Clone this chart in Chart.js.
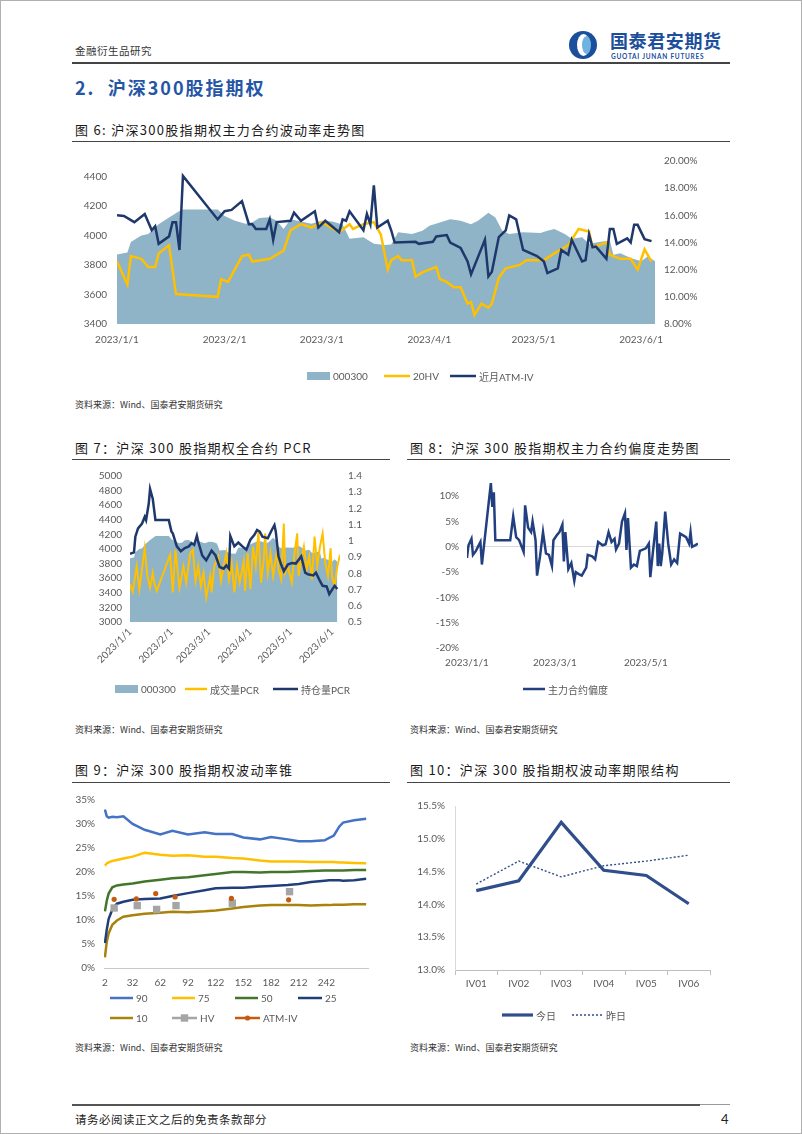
<!DOCTYPE html>
<html>
<head>
<meta charset="utf-8">
<script src="https://cdn.jsdelivr.net/npm/chart.js@4.4.0/dist/chart.umd.min.js"></script>
<style>
  html, body { margin: 0; padding: 0; background: #fff; }
  #page { position: relative; width: 802px; height: 1134px; overflow: hidden;
          font-family: "Noto Sans CJK SC", sans-serif; color: #222; }
  #frame { position: absolute; left: 0; top: 0; width: 802px; height: 1134px; box-sizing: border-box;
           border: 1px solid #b0b0b0; pointer-events: none; }
  .t { position: absolute; white-space: nowrap; line-height: 1; }
  .rule { position: absolute; background: #444; }
  .box { position: absolute; }
  .fig { font-size: 13px; letter-spacing: 1.3px; color: #1a1a1a; }
  .src { font-size: 9px; color: #333; }
  .lg { position: absolute; display: flex; align-items: center; height: 12px; white-space: nowrap;
        font-size: 10px; color: #595959; font-family: Lato, "Noto Sans CJK SC", sans-serif; }
  .lg svg { margin-right: 3px; }
  #logoIcon { position: absolute; left: 569px; top: 31px; width: 28px; height: 28px; border-radius: 50%;
              background: #1B4F9C; overflow: hidden; }
  #logoIcon .a { position: absolute; left: 8px; top: 3px; width: 13px; height: 22px; border-radius: 50%; background: #fff; }
  #logoIcon .b { position: absolute; left: 13px; top: 5px; width: 9px; height: 18px; border-radius: 50%; background: #6FB3E0; }
</style>
</head>
<body>
<div id="page">
  <div class="t" style="left:75px;top:46px;font-size:10.5px;color:#333;letter-spacing:0.5px;">金融衍生品研究</div>
  <div id="logoIcon"><div class="a"></div><div class="b"></div></div>
  <div class="t" style="left:610px;top:31px;font-size:18px;font-weight:bold;color:#1C4E9C;letter-spacing:0.6px;">国泰君安期货</div>
  <div class="t" style="left:611px;top:54px;font-size:6.5px;color:#1C4E9C;letter-spacing:0.75px;font-family:Lato,sans-serif;font-weight:bold;">GUOTAI JUNAN FUTURES</div>
  <div class="rule" style="left:72px;top:62px;width:658px;height:1.5px;"></div>

  <div class="t" style="left:75px;top:78px;font-size:18px;font-weight:bold;color:#2556A5;letter-spacing:2px;">2.&nbsp;&nbsp;沪深300股指期权</div>

  <div class="t fig" style="left:75px;top:123px;">图 6: 沪深300股指期权主力合约波动率走势图</div>
  <div class="rule" style="left:72px;top:141px;width:658px;height:1px;"></div>
  <div class="box" style="left:72px;top:145px;width:658px;height:205px;"><canvas id="c6"></canvas></div>
  <div class="t src" style="left:75px;top:400px;">资料来源：Wind、国泰君安期货研究</div>

  <div class="t fig" style="left:75px;top:441px;">图 7：沪深 300 股指期权全合约 PCR</div>
  <div class="t fig" style="left:410px;top:441px;">图 8：沪深 300 股指期权主力合约偏度走势图</div>
  <div class="rule" style="left:72px;top:459px;width:318px;height:1px;"></div>
  <div class="rule" style="left:407px;top:459px;width:323px;height:1px;"></div>
  <div class="box" style="left:72px;top:462px;width:318px;height:215px;"><canvas id="c7"></canvas></div>
  <div class="box" style="left:407px;top:462px;width:323px;height:212px;"><canvas id="c8"></canvas></div>
  <div class="t src" style="left:75px;top:725px;">资料来源：Wind、国泰君安期货研究</div>
  <div class="t src" style="left:410px;top:725px;">资料来源：Wind、国泰君安期货研究</div>

  <div class="t fig" style="left:75px;top:763px;">图 9：沪深 300 股指期权波动率锥</div>
  <div class="t fig" style="left:410px;top:763px;">图 10：沪深 300 股指期权波动率期限结构</div>
  <div class="rule" style="left:72px;top:782px;width:318px;height:1px;"></div>
  <div class="rule" style="left:407px;top:782px;width:323px;height:1px;"></div>
  <div class="box" style="left:72px;top:785px;width:318px;height:210px;"><canvas id="c9"></canvas></div>
  <div class="box" style="left:407px;top:790px;width:323px;height:205px;"><canvas id="c10"></canvas></div>
  <div class="t src" style="left:75px;top:1043px;">资料来源：Wind、国泰君安期货研究</div>
  <div class="t src" style="left:410px;top:1043px;">资料来源：Wind、国泰君安期货研究</div>

  <div class="rule" style="left:72px;top:1104px;width:628px;height:2px;background:#555;"></div>
  <div class="rule" style="left:700px;top:1104px;width:30px;height:1px;background:#999;"></div>
  <div class="t" style="left:75px;top:1114px;font-size:11.5px;color:#222;letter-spacing:0.5px;">请务必阅读正文之后的免责条款部分</div>
  <div class="t" style="left:721px;top:1113px;font-size:13px;color:#222;font-family:Lato,sans-serif;">4</div>
  <div id="frame"></div>
</div>

<script>
// ---- data (days counted from 2023-01-01, 0 = Jan 1) ----
const monthStartDays = [0, 31, 59, 90, 120, 151];
const monthStartLabels = ['2023/1/1', '2023/2/1', '2023/3/1', '2023/4/1', '2023/5/1', '2023/6/1'];
const skewTickDays = [0, 59, 120];

// 000300 close (shared by fig 6 and fig 7)
const idxDays = [0, 3, 4, 7, 9, 12, 15, 18, 19, 29, 31, 34, 37, 39, 41, 44, 46, 48, 50, 53,
  56, 59, 62, 65, 67, 71, 74, 77, 79, 81, 85, 88, 90, 93, 96, 99, 102, 104, 107, 109,
  111, 113, 117, 122, 124, 126, 129, 131, 134, 136, 139, 142, 143, 145, 148, 151, 153, 155];
const idxClose = [3872, 3885, 3956, 4000, 4011, 4077, 4122, 4166, 4177, 4177, 4133, 4100, 4080, 4090, 4120, 4125, 4100, 4045, 4110, 4095,
  4080, 4100, 4095, 4075, 3978, 3988, 3945, 3936, 3940, 4022, 4011, 4033, 4066, 4088, 4110, 4100, 4077, 4100, 4155, 4122,
  4033, 4011, 4022, 4018, 4033, 4044, 4011, 3978, 3989, 3945, 3956, 3967, 3870, 3880, 3848, 3826, 3860, 3826];
const idxTicks = [3400, 3600, 3800, 4000, 4200, 4400];

// fig 6: 20-day HV and near-month ATM IV (%)
const hvDays = [0, 3, 4, 7, 9, 11, 12, 15, 17, 29, 30, 32, 36, 38, 39, 44, 46, 48, 50, 53,
  56, 59, 64, 67, 68, 71, 74, 76, 78, 79, 81, 82, 85, 86, 88, 92, 93, 95, 97, 99,
  101, 102, 103, 105, 107, 108, 110, 112, 116, 118, 123, 126, 130, 133, 136, 137, 141, 142, 145, 148,
  150, 152, 154];
const hv20 = [12.6, 10.9, 13.0, 12.8, 12.2, 12.2, 13.2, 13.8, 10.2, 10.0, 11.3, 11.1, 13.0, 13.1, 12.6, 12.8, 13.1, 13.4, 14.9, 15.35,
  15.1, 15.5, 14.75, 15.35, 15.0, 15.35, 15.5, 14.6, 12.0, 12.7, 13.0, 12.7, 12.7, 11.5, 11.8, 12.2, 11.3, 11.1, 10.7, 10.7,
  9.5, 9.6, 8.65, 9.5, 9.2, 9.5, 11.4, 12.1, 12.35, 12.7, 12.7, 13.2, 13.8, 15.0, 14.8, 13.65, 14.0, 13.1, 12.8, 12.8,
  12.0, 13.5, 12.6];
const ivDays = [0, 2, 5, 8, 10, 11, 12, 15, 16, 17, 18, 19, 29, 31, 33, 36, 38, 39, 40, 43,
  44, 45, 46, 50, 51, 53, 57, 58, 60, 64, 65, 66, 67, 71, 72, 73, 74, 75, 78, 79,
  80, 86, 87, 91, 92, 95, 96, 99, 101, 102, 106, 107, 108, 110, 112, 113, 115, 117, 121, 123,
  124, 127, 128, 130, 131, 134, 135, 136, 137, 138, 141, 142, 143, 144, 147, 148, 149, 150, 152, 154];
const atmIv = [16.0, 15.95, 15.5, 16.1, 14.9, 15.2, 13.9, 14.45, 15.5, 15.5, 13.45, 18.9, 15.7, 16.3, 16.4, 17.05, 15.35, 15.35, 15.0, 15.0,
  15.7, 14.2, 15.5, 15.6, 16.2, 15.6, 16.3, 15.1, 15.6, 14.75, 15.7, 15.6, 16.3, 14.9, 16.1, 15.35, 18.2, 15.1, 15.6, 14.9,
  14.0, 14.05, 13.9, 14.05, 14.45, 14.55, 14.0, 13.6, 12.6, 11.65, 14.2, 11.5, 11.85, 14.4, 14.9, 16.0, 15.7, 13.45, 13.0, 12.6,
  11.75, 12.1, 13.45, 13.1, 14.2, 12.6, 12.7, 14.6, 13.65, 13.7, 12.8, 15.0, 15.0, 13.9, 14.3, 14.0, 15.3, 15.3, 14.25, 14.1];
const volTicks = [8, 10, 12, 14, 16, 18, 20];

// fig 7: put/call ratios
const pcrVolDays = [0, 2, 5, 7, 11, 13, 15, 17, 18, 20, 30, 32, 34, 36, 37, 40, 42, 45, 47, 49,
  51, 53, 55, 57, 60, 61, 63, 66, 68, 70, 72, 74, 76, 78, 80, 82, 85, 86, 88, 90,
  92, 94, 96, 98, 100, 101, 103, 105, 107, 110, 111, 113, 115, 116, 118, 121, 123, 125, 126, 128,
  130, 132, 134, 136, 138, 140, 142, 144, 146, 148, 150, 151, 153, 155, 157];
const pcrVol = [0.733, 0.686, 0.844, 0.702, 0.955, 0.783, 0.712, 0.803, 0.743, 0.692, 0.915, 0.682, 0.945, 0.783, 0.712, 0.844, 0.743, 0.925, 0.945, 0.753,
  0.844, 0.723, 0.803, 0.652, 0.783, 0.682, 0.844, 0.905, 0.753, 0.844, 0.925, 0.763, 0.864, 0.682, 0.844, 0.743, 0.874, 0.692, 0.925, 0.702,
  0.965, 0.844, 1.056, 0.743, 0.884, 1.046, 0.803, 0.925, 0.783, 0.945, 0.824, 0.763, 1.107, 0.803, 0.844, 0.743, 0.925, 1.046, 0.783, 0.884,
  0.965, 0.824, 0.905, 0.763, 1.026, 0.844, 0.965, 1.046, 0.864, 0.783, 0.955, 0.783, 0.723, 0.844, 0.915];
const pcrOiDays = [0, 3, 4, 6, 9, 11, 12, 14, 15, 17, 19, 29, 31, 32, 35, 38, 41, 44, 46, 48,
  50, 51, 54, 57, 61, 64, 67, 70, 72, 74, 75, 78, 81, 84, 87, 90, 93, 95, 97, 99,
  103, 106, 108, 109, 111, 113, 115, 118, 121, 124, 128, 131, 133, 137, 139, 142, 144, 147, 149, 151,
  153, 155];
const pcrOi = [0.921, 0.929, 1.026, 1.077, 1.107, 1.148, 1.128, 1.229, 1.32, 1.26, 1.128, 1.128, 1.057, 1.047, 0.966, 0.936, 0.956, 0.966, 0.986, 0.976,
  1.032, 0.995, 0.91, 0.88, 0.94, 0.91, 0.839, 0.829, 0.849, 0.829, 1.03, 0.966, 0.99, 0.966, 0.946, 1.007, 1.037, 1.067, 1.057, 1.026,
  1.016, 1.067, 1.097, 1.057, 0.905, 0.854, 0.813, 0.854, 0.864, 0.86, 0.905, 0.804, 0.794, 0.787, 0.804, 0.753, 0.723, 0.719, 0.672, 0.698,
  0.723, 0.703];
const pcrIdxTicks = [3000, 3200, 3400, 3600, 3800, 4000, 4200, 4400, 4600, 4800, 5000];
const pcrTicks = [0.5, 0.6, 0.7, 0.8, 0.9, 1.0, 1.1, 1.2, 1.3, 1.4];

// fig 8: main contract skew (%)
const skewDays = [0, 1, 3, 4, 6, 9, 10, 16, 17, 18, 19, 29, 31, 33, 35, 38, 39, 41, 43, 44,
  46, 47, 49, 51, 53, 55, 57, 58, 60, 62, 64, 65, 66, 68, 70, 72, 73, 75, 77, 80,
  81, 84, 86, 88, 91, 93, 95, 97, 99, 100, 102, 104, 106, 107, 108, 110, 112, 114, 116, 120,
  122, 123, 125, 127, 128, 129, 130, 131, 133, 135, 137, 139, 141, 143, 147, 149, 150, 151, 153, 155];
const skew = [-2.2, 0.3, 1.6, -1.6, -0.8, 0.95, -3.5, 12.6, 7.9, 10.8, 1.3, 1.3, 6.0, 1.9, 1.3, -1.0, 8.2, 3.8, 2.9, 5.0,
  1.3, -5.7, -1.9, 2.9, -1.3, -1.6, -3.8, 1.3, 2.2, 2.9, 4.4, -2.9, 2.9, -4.4, -3.2, -6.7, -5.0, -5.4, -5.7, -4.1,
  -1.6, -1.9, -2.5, 0.95, 0.3, 0.5, 2.9, 0.95, 1.6, -0.5, 0.63, 5.0, 6.64, -0.6, 5.7, -4.1, -3.5, -3.8, -0.8, -0.3,
  0.63, -6.0, -0.3, 5.0, -3.8, 0.63, -3.8, -1.3, 6.96, 0.63, -3.5, -2.5, -3.2, 2.6, 1.9, 0.63, 2.9, 0.0, 0.3, 0.63];
const skewTicks = [-20, -15, -10, -5, 0, 5, 10];

// fig 9: volatility cone (%), x = days to expiry
const coneX = [2, 4, 6, 10, 15, 22, 32, 45, 62, 75, 92, 110, 122, 140, 152, 170, 182, 200, 212, 225, 240, 245, 250, 256, 260, 272, 285];
const cone90 = [33.0, 31.6, 31.3, 31.5, 31.4, 31.6, 30.0, 28.8, 27.8, 28.6, 27.8, 28.3, 27.9, 27.9, 27.2, 26.8, 27.3, 26.8, 26.4, 26.4, 26.6, 27.1, 27.6, 29.5, 30.3, 30.8, 31.1];
const cone75 = [21.3, 21.8, 22.0, 22.3, 22.5, 22.8, 23.2, 24.0, 23.6, 23.4, 23.5, 23.2, 23.2, 22.9, 22.8, 22.4, 22.2, 22.2, 22.2, 22.1, 22.1, 22.1, 22.1, 22.0, 22.0, 21.9, 21.8];
const cone50 = [11.8, 14.0, 15.5, 16.8, 17.2, 17.4, 17.6, 18.0, 18.4, 18.7, 18.9, 19.3, 19.6, 20.0, 20.0, 19.9, 20.0, 20.0, 20.1, 20.2, 20.3, 20.3, 20.3, 20.3, 20.3, 20.4, 20.4];
const cone25 = [5.2, 8.0, 10.2, 12.2, 13.4, 13.8, 14.2, 14.4, 14.5, 15.0, 15.6, 16.2, 16.6, 16.7, 16.7, 17.0, 17.1, 17.3, 17.5, 17.9, 18.2, 18.3, 18.3, 18.3, 18.2, 18.3, 18.6];
const cone10 = [2.2, 5.5, 7.2, 9.0, 9.9, 10.7, 11.0, 11.3, 11.5, 11.7, 11.6, 11.8, 12.0, 12.4, 12.7, 13.0, 13.1, 13.1, 13.1, 13.0, 13.1, 13.1, 13.2, 13.2, 13.2, 13.3, 13.3];
const hvPtX = [12, 37, 58, 79, 140, 202];
const hvPt = [12.5, 13.0, 12.2, 13.0, 13.5, 15.9];
const atmPtX = [12, 36, 57, 78, 139, 201];
const atmPt = [14.3, 14.4, 15.5, 14.8, 14.5, 14.2];
const coneXTicks = [2, 32, 62, 92, 122, 152, 182, 212, 242];
const coneYTicks = [0, 5, 10, 15, 20, 25, 30, 35];

// fig 10: term structure (%)
const termLabels = ['IV01', 'IV02', 'IV03', 'IV04', 'IV05', 'IV06'];
const termToday = [14.21, 14.36, 15.25, 14.52, 14.44, 14.01];
const termYesterday = [14.31, 14.66, 14.42, 14.59, 14.66, 14.75];
const termTicks = [13.0, 13.5, 14.0, 14.5, 15.0, 15.5];

// ---- styling ----
const NAVY = '#1F386B';
const GOLD = '#FFC000';
const AREA = '#8FB3C7';
const TICK = '#595959';
const NOGRID = { display: false, drawTicks: false };

Chart.defaults.font.family = 'Lato, "Noto Sans", sans-serif';
Chart.defaults.font.size = 10;
Chart.defaults.color = TICK;
Chart.defaults.animation = false;
Chart.defaults.maintainAspectRatio = false;
Chart.defaults.plugins.legend.display = false;
Chart.defaults.plugins.tooltip.enabled = false;
Chart.defaults.elements.point.radius = 0;
Chart.defaults.elements.line.tension = 0;
Chart.defaults.events = [];

const pts = (xs, ys) => xs.map((x, i) => ({ x: x, y: ys[i] }));
const fixedTicks = values => scale => { scale.ticks = values.map(v => ({ value: v })); };
const setWidth = w => scale => { scale.width = w; };
const setHeight = h => scale => { scale.height = h; };
const monthLabel = v => monthStartLabels[monthStartDays.indexOf(v)] || '';
const plain = v => String(v);

// fig 6
new Chart(document.getElementById('c6'), {
  type: 'line',
  data: {
    datasets: [
      { label: '近月ATM-IV', data: pts(ivDays, atmIv), yAxisID: 'yR', borderColor: NAVY, borderWidth: 2.5, order: 1 },
      { label: '20HV', data: pts(hvDays, hv20), yAxisID: 'yR', borderColor: GOLD, borderWidth: 2.5, order: 2 },
      { label: '000300', data: pts(idxDays, idxClose), yAxisID: 'yL', borderWidth: 0, borderColor: AREA,
        backgroundColor: AREA, fill: 'start', order: 3 }
    ]
  },
  options: {
    layout: { padding: { top: 12, left: 0, right: 0, bottom: 0 } },
    scales: {
      x: { type: 'linear', min: 0, max: 155, grid: NOGRID, border: { display: false },
           afterBuildTicks: fixedTicks(monthStartDays), afterFit: setHeight(26),
           ticks: { autoSkip: false, maxRotation: 0, padding: 10, callback: monthLabel } },
      yL: { position: 'left', min: 3400, max: 4506, grid: NOGRID, border: { display: false },
            afterBuildTicks: fixedTicks(idxTicks), afterFit: setWidth(45),
            ticks: { autoSkip: false, padding: 10, callback: plain } },
      yR: { position: 'right', min: 8, max: 20, grid: NOGRID, border: { display: false },
            afterBuildTicks: fixedTicks(volTicks), afterFit: setWidth(75),
            ticks: { autoSkip: false, padding: 9, callback: v => v.toFixed(2) + '%' } }
    }
  }
});

// fig 7
new Chart(document.getElementById('c7'), {
  type: 'line',
  data: {
    datasets: [
      { label: '持仓量PCR', data: pts(pcrOiDays, pcrOi), yAxisID: 'yR', borderColor: NAVY, borderWidth: 2.5, order: 1 },
      { label: '成交量PCR', data: pts(pcrVolDays, pcrVol), yAxisID: 'yR', borderColor: GOLD, borderWidth: 2, order: 2 },
      { label: '000300', data: pts(idxDays, idxClose), yAxisID: 'yL', borderWidth: 0, borderColor: AREA,
        backgroundColor: AREA, fill: 'start', order: 3 }
    ]
  },
  options: {
    layout: { padding: { top: 11, left: 0, right: 0, bottom: 0 } },
    scales: {
      x: { type: 'linear', min: 0, max: 157, grid: NOGRID, border: { display: false },
           afterBuildTicks: fixedTicks(monthStartDays), afterFit: setHeight(55),
           ticks: { autoSkip: false, minRotation: 45, maxRotation: 45, padding: 4, callback: monthLabel } },
      yL: { position: 'left', min: 3000, max: 5000, grid: NOGRID, border: { display: false },
            afterBuildTicks: fixedTicks(pcrIdxTicks), afterFit: setWidth(58),
            ticks: { autoSkip: false, padding: 8, callback: plain } },
      yR: { position: 'right', min: 0.5, max: 1.4, grid: NOGRID, border: { display: false },
            afterBuildTicks: fixedTicks(pcrTicks), afterFit: setWidth(50),
            ticks: { autoSkip: false, padding: 8, callback: v => String(Math.round(v * 10) / 10) } }
    }
  }
});

// fig 8
new Chart(document.getElementById('c8'), {
  type: 'line',
  data: {
    datasets: [
      { label: '主力合约偏度', data: pts(skewDays, skew), borderColor: '#22407F', borderWidth: 2.5 }
    ]
  },
  options: {
    layout: { padding: { top: 8, left: 0, right: 32, bottom: 0 } },
    scales: {
      x: { type: 'linear', min: 0, max: 155, grid: NOGRID, border: { display: false },
           afterBuildTicks: fixedTicks(skewTickDays), afterFit: setHeight(26),
           ticks: { autoSkip: false, maxRotation: 0, padding: 9, callback: monthLabel } },
      y: { min: -20, max: 14, border: { display: false },
           grid: { drawTicks: false, color: c => (c.tick && c.tick.value === 0) ? '#D9D9D9' : 'rgba(0,0,0,0)' },
           afterBuildTicks: fixedTicks(skewTicks), afterFit: setWidth(60),
           ticks: { autoSkip: false, padding: 8, callback: v => v + '%' } }
    }
  }
});

// fig 9
const coneSeries = [
  { label: '90', data: cone90, color: '#4472C4' },
  { label: '75', data: cone75, color: '#FFC000' },
  { label: '50', data: cone50, color: '#44762A' },
  { label: '25', data: cone25, color: '#203F7A' },
  { label: '10', data: cone10, color: '#A8820A' }
];
new Chart(document.getElementById('c9'), {
  type: 'line',
  data: {
    datasets: coneSeries.map(s => ({ label: s.label, data: pts(coneX, s.data), borderColor: s.color, borderWidth: 2.5, order: 2 }))
      .concat([
        { label: 'HV', data: pts(hvPtX, hvPt), showLine: false, pointStyle: 'rect', pointRadius: 5.2,
          backgroundColor: '#A5A5A5', borderWidth: 0, order: 1 },
        { label: 'ATM-IV', data: pts(atmPtX, atmPt), showLine: false, pointStyle: 'circle', pointRadius: 2.6,
          backgroundColor: '#C55A11', borderWidth: 0, order: 0 }
      ])
  },
  options: {
    layout: { padding: { top: 8, left: 0, right: 22, bottom: 0 } },
    scales: {
      x: { type: 'linear', min: 1, max: 287, grid: NOGRID, border: { display: true, color: '#C8C8C8' },
           afterBuildTicks: fixedTicks(coneXTicks), afterFit: setHeight(27),
           ticks: { autoSkip: false, maxRotation: 0, padding: 9, callback: plain } },
      y: { min: 0, max: 35, grid: NOGRID, border: { display: false },
           afterBuildTicks: fixedTicks(coneYTicks), afterFit: setWidth(32),
           ticks: { autoSkip: false, padding: 9, callback: v => v + '%' } }
    }
  }
});

// fig 10
new Chart(document.getElementById('c10'), {
  type: 'line',
  data: {
    labels: termLabels,
    datasets: [
      { label: '今日', data: termToday, borderColor: '#2F4E8B', borderWidth: 3.2 },
      { label: '昨日', data: termYesterday, borderColor: '#2F4E8B', borderWidth: 1.4, borderDash: [2, 2] }
    ]
  },
  options: {
    layout: { padding: { top: 15, left: 0, right: 20, bottom: 0 } },
    scales: {
      x: { offset: true, border: { display: true, color: '#BFBFBF' },
           grid: { display: true, drawOnChartArea: false, drawTicks: true, tickLength: 5, offset: true, color: '#BFBFBF' },
           afterFit: setHeight(25), ticks: { padding: 3 } },
      y: { min: 13, max: 15.5, grid: NOGRID, border: { display: true, color: '#D9D9D9' },
           afterBuildTicks: fixedTicks(termTicks), afterFit: setWidth(48),
           ticks: { autoSkip: false, padding: 10, callback: v => v.toFixed(1) + '%' } }
    }
  }
});

// ---- html legends ----
function legendSymbol(it) {
  const w = it.w || 24, c = it.color;
  let s;
  if (it.kind === 'box') {
    s = '<rect x="0" y="1" width="' + w + '" height="8" fill="' + c + '"/>';
  } else {
    const dash = it.dash ? ' stroke-dasharray="' + it.dash + '"' : '';
    s = '<line x1="0" y1="5" x2="' + w + '" y2="5" stroke="' + c + '" stroke-width="' + (it.lw || 2.5) + '"' + dash + '/>';
    if (it.marker === 'rect') s += '<rect x="' + (w / 2 - 3.7) + '" y="1.3" width="7.4" height="7.4" fill="' + c + '"/>';
    if (it.marker === 'circle') s += '<circle cx="' + (w / 2) + '" cy="5" r="2.6" fill="' + c + '"/>';
  }
  return '<svg width="' + w + '" height="10">' + s + '</svg>';
}
function addLegend(items) {
  const page = document.getElementById('page');
  items.forEach(it => {
    const el = document.createElement('div');
    el.className = 'lg';
    el.style.left = it.x + 'px';
    el.style.top = (it.y - 6) + 'px';
    el.innerHTML = legendSymbol(it) + '<span>' + it.label + '</span>';
    page.appendChild(el);
  });
}
addLegend([
  { x: 307, y: 376, kind: 'box', w: 23, color: AREA, label: '000300' },
  { x: 384, y: 376, color: GOLD, w: 26, label: '20HV' },
  { x: 450, y: 376, color: NAVY, w: 26, label: '近月ATM-IV' },

  { x: 115, y: 689, kind: 'box', w: 23, color: AREA, label: '000300' },
  { x: 185, y: 689, color: GOLD, w: 22, label: '成交量PCR' },
  { x: 273, y: 689, color: NAVY, w: 25, label: '持仓量PCR' },

  { x: 523, y: 689, color: '#22407F', w: 22, label: '主力合约偏度' },

  { x: 110, y: 998, color: coneSeries[0].color, w: 23, label: '90' },
  { x: 172, y: 998, color: coneSeries[1].color, w: 23, label: '75' },
  { x: 235, y: 998, color: coneSeries[2].color, w: 23, label: '50' },
  { x: 298, y: 998, color: coneSeries[3].color, w: 24, label: '25' },
  { x: 110, y: 1018, color: coneSeries[4].color, w: 23, label: '10' },
  { x: 172, y: 1018, color: '#A5A5A5', w: 25, marker: 'rect', label: 'HV' },
  { x: 235, y: 1018, color: '#C55A11', w: 25, marker: 'circle', label: 'ATM-IV' },

  { x: 502, y: 1015, color: '#2F4E8B', w: 31, lw: 3.2, label: '今日' },
  { x: 572, y: 1015, color: '#2F4E8B', w: 31, lw: 1.4, dash: '2,2', label: '昨日' }
]);
</script>
</body>
</html>
